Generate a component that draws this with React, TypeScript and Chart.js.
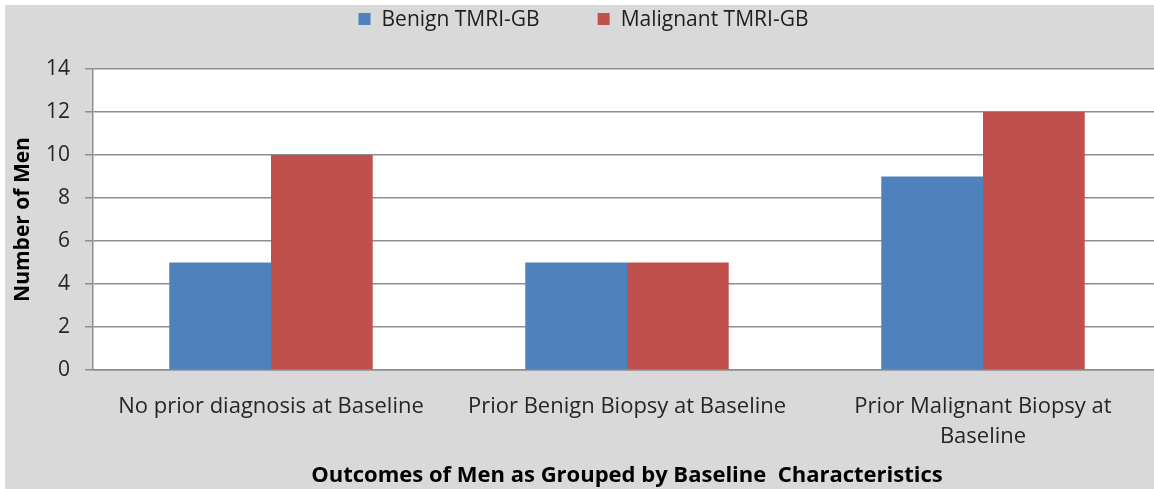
import React, { useEffect, useRef } from "react";
import { Chart, registerables } from "chart.js";

Chart.register(...registerables);

const categories: string[][] = [
  ["No prior diagnosis at Baseline"],
  ["Prior Benign Biopsy at Baseline"],
  ["Prior Malignant Biopsy at", "Baseline"],
];
const seriesNames = ["Benign TMRI-GB", "Malignant TMRI-GB"];
const benignValues = [5, 5, 9];
const malignantValues = [10, 5, 12];
const yTickValues = [0, 2, 4, 6, 8, 10, 12, 14];
const xAxisTitle = "Outcomes of Men as Grouped by Baseline  Characteristics";
const yAxisTitle = "Number of Men";

const FONT = "'Open Sans'";
const GRID = "#8e8e8e";

const plotBackground = {
  id: "plotBackground",
  beforeDraw(chart: any) {
    const { ctx, chartArea } = chart;
    ctx.save();
    ctx.fillStyle = "#ffffff";
    ctx.fillRect(chartArea.left, chartArea.top, chartArea.right - chartArea.left, chartArea.bottom - chartArea.top);
    ctx.restore();
  },
};

const topLegend = {
  id: "topLegend",
  afterDraw(chart: any) {
    const ctx = chart.ctx;
    ctx.save();
    ctx.font = `21px ${FONT}`;
    const items = chart.data.datasets.map((ds: any) => ({ text: ds.label, color: ds.backgroundColor }));
    const box = 12;
    const gap = 11;
    const spacing = 58;
    const widths = items.map((it: any) => box + gap + ctx.measureText(it.text).width);
    const total = widths.reduce((a: number, b: number) => a + b, 0) + spacing * (items.length - 1);
    let x = 578.5 - total / 2;
    const yc = 14;
    items.forEach((it: any, i: number) => {
      ctx.fillStyle = it.color;
      ctx.fillRect(x, yc - 6, box, box);
      ctx.fillStyle = "#1e1e1e";
      ctx.textBaseline = "middle";
      ctx.textAlign = "left";
      ctx.fillText(it.text, x + box + gap, yc + 1);
      x += widths[i] + spacing;
    });
    ctx.restore();
  },
};

export default function App() {
  const canvasRef = useRef<HTMLCanvasElement | null>(null);

  useEffect(() => {
    if (!canvasRef.current) return;
    const chart = new Chart(canvasRef.current, {
      type: "bar",
      data: {
        labels: categories,
        datasets: [
          { label: seriesNames[0], data: benignValues, backgroundColor: "#4f81bd", borderWidth: 0 },
          { label: seriesNames[1], data: malignantValues, backgroundColor: "#c0504d", borderWidth: 0 },
        ],
      },
      options: {
        responsive: false,
        animation: false,
        devicePixelRatio: 1,
        categoryPercentage: 2 / 3.5,
        barPercentage: 1,
        layout: { padding: { top: 64, left: 0, right: 0, bottom: 0 } },
        plugins: {
          legend: { display: false },
          tooltip: { enabled: false },
        },
        scales: {
          x: {
            grid: { display: false, drawTicks: false },
            border: { display: true, color: GRID, width: 1.5 },
            ticks: {
              font: { family: FONT, size: 22, lineHeight: 1.35 },
              color: "#262626",
              padding: 22,
              maxRotation: 0,
              autoSkip: false,
            },
            title: {
              display: true,
              text: xAxisTitle,
              font: { family: FONT, size: 22, weight: "bold" },
              color: "#000000",
              padding: { top: 0, bottom: 0 },
            },
            afterFit(scale: any) {
              scale.height = 119;
            },
          },
          y: {
            min: yTickValues[0],
            max: yTickValues[yTickValues.length - 1],
            afterBuildTicks(scale: any) {
              scale.ticks = yTickValues.map((v) => ({ value: v }));
            },
            grid: { color: GRID, lineWidth: 1.5, tickLength: 8, drawTicks: true },
            border: { display: true, color: GRID, width: 1.5 },
            ticks: {
              font: { family: FONT, size: 21 },
              color: "#262626",
              padding: 15,
            },
            title: {
              display: true,
              text: yAxisTitle,
              font: { family: FONT, size: 21, weight: "bold" },
              color: "#000000",
              padding: { top: 5, bottom: 0 },
            },
            afterFit(scale: any) {
              scale.width = 88;
            },
          },
        },
      },
      plugins: [plotBackground, topLegend],
    });
    return () => chart.destroy();
  }, []);

  return (
    <div
      style={{
        position: "fixed",
        left: 5,
        top: 5,
        right: 0,
        bottom: 0,
        overflow: "hidden",
        background: "#d9d9d9",
      }}
    >
      <canvas ref={canvasRef} width={1156} height={484} style={{ display: "block" }} />
    </div>
  );
}
